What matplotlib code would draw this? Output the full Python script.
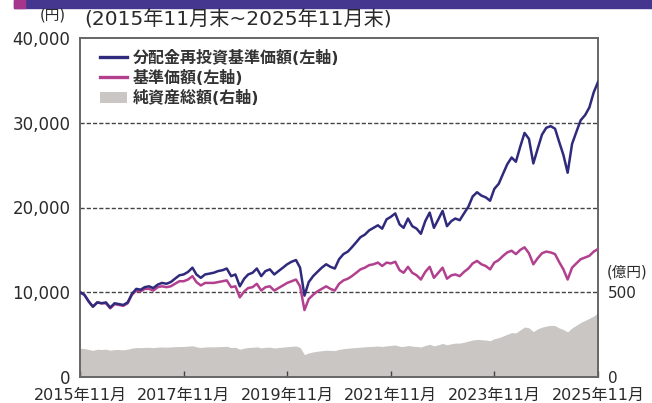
import numpy as np
import pandas as pd
import matplotlib
matplotlib.use('Agg')
import matplotlib.pyplot as plt
from matplotlib.patches import Patch, Rectangle
from matplotlib.lines import Line2D

# numeros en DejaVu (mas ancha), kanji en Noto CJK
plt.rcParams['font.family'] = ['DejaVu Sans', 'Noto Sans CJK JP']

# 月末データ 2015年11月末〜2025年11月末
fechas = pd.date_range('2015-11-30', periods=121, freq='ME')

# 分配金再投資基準価額(円)
reinvest = [10000, 9700, 8900, 8300, 8800, 8700, 8800, 8200, 8700, 8600, 8500, 8800,
            9800, 10400, 10300, 10600, 10700, 10500, 10900, 11100, 11000, 11200, 11600, 12000,
            12100, 12400, 12900, 12100, 11700, 12100, 12200, 12300, 12500, 12600, 12800, 11900,
            12100, 10700, 11600, 12100, 12300, 12800, 11900, 12500, 12700, 12100, 12500, 12900,
            13300, 13600, 13800, 12900, 9600, 11200, 11900, 12400, 12900, 13300, 13000, 12800,
            13900, 14500, 14800, 15300, 15900, 16500, 16800, 17300, 17600, 17900, 17500, 18600,
            18900, 19300, 18000, 17600, 18700, 17800, 17500, 16900, 18400, 19400, 17600, 18600,
            19600, 17800, 18400, 18700, 18500, 19300, 20100, 21300, 21800, 21400, 21200, 20800,
            22200, 22800, 24000, 25100, 25900, 25400, 27200, 28800, 28100, 25200, 26900, 28600,
            29400, 29600, 29300, 27800, 26200, 24100, 27500, 28900, 30300, 30900, 31800, 33600,
            34800]

# 基準価額(円)
nav = [10000, 9700, 8900, 8300, 8800, 8700, 8700, 8100, 8600, 8500, 8400, 8700,
       9700, 10200, 10100, 10400, 10400, 10200, 10600, 10700, 10600, 10700, 11000, 11300,
       11300, 11500, 11900, 11200, 10800, 11100, 11100, 11100, 11200, 11300, 11400, 10600,
       10700, 9400, 10100, 10500, 10600, 11000, 10200, 10600, 10700, 10200, 10500, 10800,
       11100, 11300, 11500, 10700, 7900, 9200, 9700, 10100, 10400, 10700, 10400, 10200,
       11000, 11400, 11600, 11900, 12300, 12700, 12900, 13200, 13300, 13500, 13100, 13500,
       13400, 13600, 12600, 12300, 13000, 12300, 12000, 11500, 12400, 13000, 11700, 12300,
       12900, 11600, 12000, 12100, 11900, 12400, 12800, 13400, 13700, 13300, 13100, 12700,
       13500, 13800, 14300, 14700, 14900, 14500, 15000, 15300, 14600, 13300, 14000, 14600,
       14800, 14700, 14500, 13600, 12700, 11500, 12900, 13400, 13900, 14100, 14300, 14800,
       15100]

# 純資産総額(億円)
assets = [170, 168, 162, 157, 164, 162, 164, 158, 162, 162, 160, 164,
          170, 174, 173, 175, 175, 173, 176, 177, 176, 177, 179, 180,
          180, 182, 184, 178, 174, 177, 178, 178, 179, 180, 181, 174,
          175, 164, 170, 174, 175, 178, 172, 175, 176, 171, 174, 176,
          179, 181, 183, 174, 132, 142, 148, 152, 155, 158, 157, 156,
          163, 167, 170, 172, 174, 176, 178, 180, 181, 183, 180, 184,
          186, 189, 181, 180, 186, 182, 180, 177, 186, 193, 184, 190,
          198, 190, 196, 200, 200, 205, 212, 218, 222, 220, 218, 214,
          226, 232, 242, 252, 262, 260, 278, 295, 290, 268, 284, 294,
          300, 305, 303, 290, 280, 266, 290, 305, 322, 334, 346, 360,
          378]

tick_fechas = pd.to_datetime(['2015-11-30', '2017-11-30', '2019-11-30', '2021-11-30',
                              '2023-11-30', '2025-11-30'])
tick_labels = ['2015年11月', '2017年11月', '2019年11月', '2021年11月', '2023年11月', '2025年11月']

azul = '#2f2a7c'
rosa = '#b2408f'
gris = '#c9c6c4'
texto = '#2a2a2a'

fig = plt.figure(figsize=[6.52, 4.03], dpi=100)
ax = fig.add_axes([80 / 652, 26 / 403, 518 / 652, 339 / 403])
ax2 = ax.twinx()

# banda superior
fig.patches.append(Rectangle((14 / 652, 1 - 8 / 403), 1, 8 / 403, transform=fig.transFigure,
                             color='#45378f', zorder=0))
fig.patches.append(Rectangle((14 / 652, 1 - 8 / 403), 11 / 652, 8 / 403, transform=fig.transFigure,
                             color='#a8358c', zorder=1))

ax2.fill_between(fechas, 0, assets, color=gris, lw=0)
ax2.set_ylim(0, 2000)
ax2.set_yticks([0, 500])
ax2.set_yticklabels(['0', '500'])
ax2.tick_params(axis='y', length=0, pad=7, labelsize=11, labelcolor=texto)

ax.set_zorder(ax2.get_zorder() + 1)
ax.patch.set_visible(False)

for v in [10000, 20000, 30000]:
    ax.axhline(v, color='#444444', lw=1.0, ls=(0, (3, 1.5)), zorder=1)

ax.plot(fechas, nav, color=rosa, lw=1.8, zorder=3)
ax.plot(fechas, reinvest, color=azul, lw=1.8, zorder=4)

ax.set_xlim(fechas[0], fechas[-1])
ax.set_ylim(0, 40000)
ax.set_yticks([0, 10000, 20000, 30000, 40000])
ax.set_yticklabels(['0', '10,000', '20,000', '30,000', '40,000'])
ax.tick_params(axis='y', length=0, pad=7, labelsize=12, labelcolor=texto)
ax.set_xticks(tick_fechas)
ax.set_xticklabels(tick_labels)
ax.tick_params(axis='x', direction='in', length=4, width=1, color='#444444', pad=8,
               labelsize=11.5, labelcolor=texto)

for a in (ax, ax2):
    for s in a.spines.values():
        s.set_color('#666666')
        s.set_linewidth(1.2)

handles = [Line2D([], [], color=azul, lw=2.4),
           Line2D([], [], color=rosa, lw=2.4),
           Patch(facecolor=gris, edgecolor='none')]
labels = ['分配金再投資基準価額(左軸)', '基準価額(左軸)', '純資産総額(右軸)']
leg = ax.legend(handles, labels, loc='upper left', bbox_to_anchor=(20 / 518, 1 - 12 / 339),
                frameon=False, borderpad=0, borderaxespad=0,
                handlelength=1.7, handleheight=0.7, handletextpad=0.35, labelspacing=0.25,
                prop={'size': 11.5, 'weight': 'bold'})
for t in leg.get_texts():
    t.set_color('#333333')

fig.text(53 / 652, 1 - 15 / 403, '(円)', ha='center', va='center', fontsize=10.5, color=texto)
fig.text(84 / 652, 1 - 20 / 403, '(2015年11月末~2025年11月末)', ha='left', va='center',
         fontsize=14.5, color=texto)
fig.text(627 / 652, 1 - 272 / 403, '(億円)', ha='center', va='center', fontsize=10.5, color=texto)

fig.savefig('out.png', dpi=100)
